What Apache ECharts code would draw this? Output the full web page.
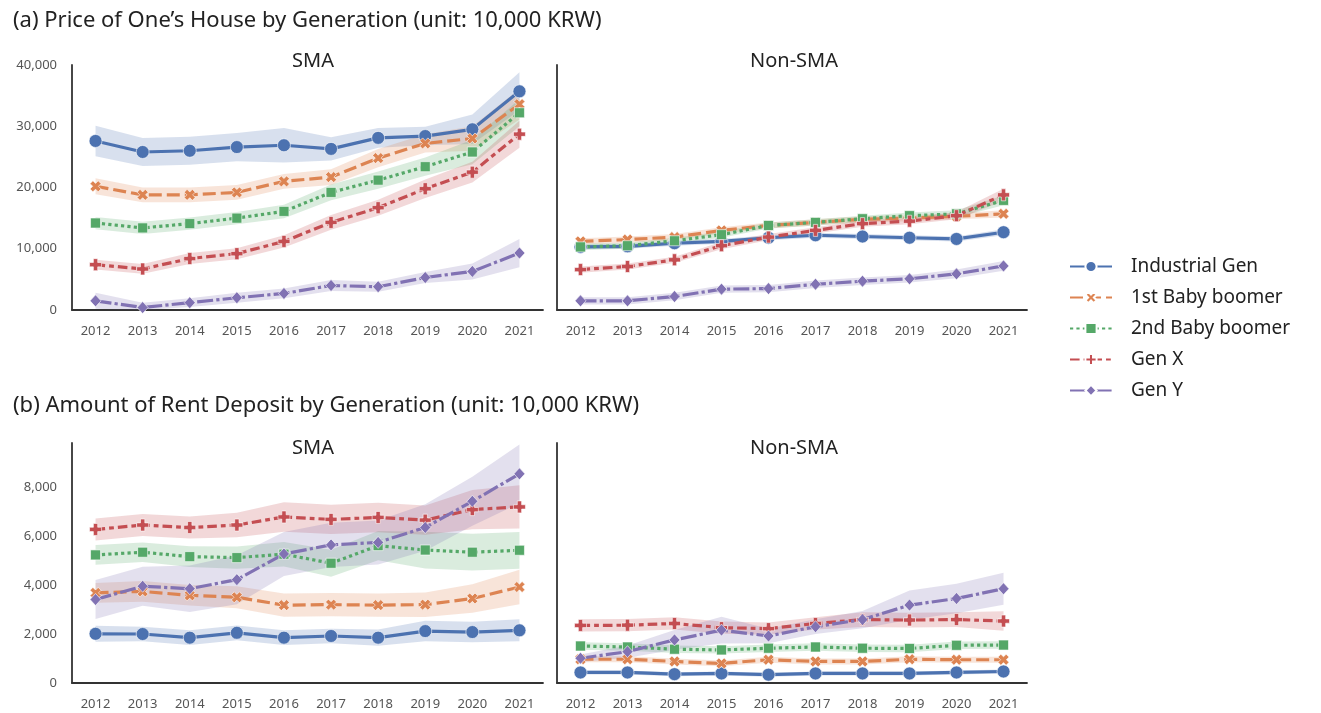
<!DOCTYPE html>
<html>
<head>
<meta charset="utf-8">
<script src="https://cdn.jsdelivr.net/npm/echarts@6/dist/echarts.min.js"></script>
<style>
  html, body { margin: 0; padding: 0; background: #fff; }
  #chart { width: 1321px; height: 713px; }
</style>
</head>
<body>
<div id="chart"></div>
<script>
// Years on the x axis
const years = ['2012', '2013', '2014', '2015', '2016', '2017', '2018', '2019', '2020', '2021'];
const generations = ['Industrial Gen', '1st Baby boomer', '2nd Baby boomer', 'Gen X', 'Gen Y'];

// (a) Price of one's house, SMA (unit: 10,000 KRW) — mean and CI half-width
const priceSmaIndustrial   = [27600, 25800, 26000, 26600, 26900, 26300, 28100, 28400, 29500, 35700];
const priceSmaIndustrialCI = [2500, 2300, 2300, 2300, 2800, 1900, 1600, 1500, 2400, 3100];
const priceSmaBoomer1      = [20200, 18800, 18800, 19200, 21000, 21700, 24800, 27200, 28000, 33600];
const priceSmaBoomer1CI    = [1300, 1200, 1200, 1200, 1200, 1300, 1500, 1500, 2000, 2500];
const priceSmaBoomer2      = [14200, 13400, 14100, 15000, 16100, 19200, 21200, 23400, 25800, 32200];
const priceSmaBoomer2CI    = [1000, 1000, 1000, 1000, 1100, 1300, 1400, 1500, 2000, 2200];
const priceSmaGenX         = [7400, 6700, 8400, 9200, 11200, 14300, 16700, 19800, 22500, 28700];
const priceSmaGenXCI       = [800, 800, 900, 900, 1000, 1200, 1300, 1500, 1700, 2200];
const priceSmaGenY         = [1500, 400, 1200, 2000, 2700, 4000, 3800, 5300, 6300, 9300];
const priceSmaGenYCI       = [1300, 800, 700, 800, 800, 900, 800, 900, 1300, 2300];

// (a) Price of one's house, Non-SMA
const priceNonIndustrial   = [10300, 10400, 10900, 11200, 11800, 12200, 12000, 11800, 11600, 12700];
const priceNonIndustrialCI = [400, 400, 400, 400, 400, 400, 400, 400, 400, 500];
const priceNonBoomer1      = [11200, 11500, 11900, 13000, 13800, 14300, 14800, 15000, 15300, 15700];
const priceNonBoomer1CI    = [500, 500, 500, 500, 500, 500, 500, 500, 500, 600];
const priceNonBoomer2      = [10300, 10500, 11300, 12300, 13800, 14300, 14900, 15400, 15700, 17900];
const priceNonBoomer2CI    = [500, 500, 500, 500, 500, 500, 500, 500, 600, 800];
const priceNonGenX         = [6600, 7100, 8200, 10500, 11900, 13000, 14100, 14500, 15400, 18800];
const priceNonGenXCI       = [500, 500, 500, 600, 500, 500, 500, 500, 600, 1000];
const priceNonGenY         = [1500, 1500, 2200, 3400, 3500, 4200, 4700, 5100, 5900, 7200];
const priceNonGenYCI       = [600, 600, 600, 600, 600, 600, 600, 600, 700, 800];

// (b) Amount of rent deposit, SMA
const depositSmaIndustrial   = [2010, 2000, 1850, 2050, 1850, 1920, 1850, 2120, 2080, 2150];
const depositSmaIndustrialCI = [330, 300, 300, 300, 300, 300, 330, 420, 420, 450];
const depositSmaBoomer1      = [3680, 3740, 3580, 3500, 3180, 3200, 3180, 3200, 3450, 3920];
const depositSmaBoomer1CI    = [400, 420, 420, 450, 470, 470, 470, 500, 580, 700];
const depositSmaBoomer2      = [5230, 5340, 5160, 5120, 5260, 4890, 5610, 5430, 5340, 5420];
const depositSmaBoomer2CI    = [400, 400, 420, 450, 500, 550, 600, 750, 750, 750];
const depositSmaGenX         = [6270, 6450, 6350, 6450, 6780, 6680, 6760, 6650, 7080, 7190];
const depositSmaGenXCI       = [450, 450, 450, 500, 600, 600, 600, 600, 800, 880];
const depositSmaGenY         = [3410, 3950, 3850, 4220, 5270, 5640, 5740, 6350, 7420, 8540];
const depositSmaGenYCI       = [800, 800, 950, 1000, 900, 900, 900, 950, 1000, 1200];

// (b) Amount of rent deposit, Non-SMA
const depositNonIndustrial   = [430, 430, 360, 390, 340, 390, 390, 390, 430, 470];
const depositNonIndustrialCI = [80, 80, 80, 80, 80, 80, 80, 80, 80, 80];
const depositNonBoomer1      = [970, 970, 880, 800, 950, 880, 880, 970, 950, 950];
const depositNonBoomer1CI    = [120, 120, 120, 120, 120, 120, 120, 120, 120, 120];
const depositNonBoomer2      = [1510, 1470, 1380, 1350, 1420, 1470, 1420, 1410, 1540, 1550];
const depositNonBoomer2CI    = [150, 150, 150, 150, 150, 150, 150, 150, 150, 150];
const depositNonGenX         = [2350, 2360, 2430, 2260, 2220, 2430, 2590, 2570, 2590, 2530];
const depositNonGenXCI       = [250, 250, 250, 250, 250, 250, 300, 300, 300, 400];
const depositNonGenY         = [1010, 1280, 1760, 2160, 1920, 2300, 2590, 3180, 3450, 3850];
const depositNonGenYCI       = [150, 250, 400, 550, 300, 300, 350, 600, 600, 650];

const priceTicks = [0, 10000, 20000, 30000, 40000];
const depositTicks = [0, 2000, 4000, 6000, 8000];

// Per-panel groups: [mean, ci] for each generation
const panels = [
  [[priceSmaIndustrial, priceSmaIndustrialCI], [priceSmaBoomer1, priceSmaBoomer1CI], [priceSmaBoomer2, priceSmaBoomer2CI], [priceSmaGenX, priceSmaGenXCI], [priceSmaGenY, priceSmaGenYCI]],
  [[priceNonIndustrial, priceNonIndustrialCI], [priceNonBoomer1, priceNonBoomer1CI], [priceNonBoomer2, priceNonBoomer2CI], [priceNonGenX, priceNonGenXCI], [priceNonGenY, priceNonGenYCI]],
  [[depositSmaIndustrial, depositSmaIndustrialCI], [depositSmaBoomer1, depositSmaBoomer1CI], [depositSmaBoomer2, depositSmaBoomer2CI], [depositSmaGenX, depositSmaGenXCI], [depositSmaGenY, depositSmaGenYCI]],
  [[depositNonIndustrial, depositNonIndustrialCI], [depositNonBoomer1, depositNonBoomer1CI], [depositNonBoomer2, depositNonBoomer2CI], [depositNonGenX, depositNonGenXCI], [depositNonGenY, depositNonGenYCI]]
];

const colors = ['#4c72b0', '#dd8452', '#55a868', '#c44e52', '#8172b3'];
const LW = 3.2;
const dashes = ['solid', [13, 5], [3.2, 3.2], [9.6, 4, 4.8, 4], [16, 3.2, 3.2, 3.2]];
// filled "X" and "P" (plus) marker outlines
const xMark = 'path://M0,2.6 L2.6,0 L5,2.4 L7.4,0 L10,2.6 L7.6,5 L10,7.4 L7.4,10 L5,7.6 L2.6,10 L0,7.4 L2.4,5 Z';
const plusMark = 'path://M3.2,0 H6.8 V3.2 H10 V6.8 H6.8 V10 H3.2 V6.8 H0 V3.2 H3.2 Z';
const symbols = ['circle', xMark, 'rect', plusMark, 'diamond'];
const symbolSizes = [13, 11, 10, 12, [11, 12]];

const font = '"Noto Sans", sans-serif';

const grids = [
  { left: 72, top: 65, width: 471, height: 245 },
  { left: 557, top: 65, width: 470, height: 245 },
  { left: 72, top: 443, width: 471, height: 240 },
  { left: 557, top: 443, width: 470, height: 240 }
];

const fmt = v => v.toLocaleString('en-US');

const xAxes = grids.map((g, i) => ({
  type: 'category',
  gridIndex: i,
  data: years,
  boundaryGap: true,
  axisLine: { show: true, lineStyle: { color: '#333', width: 1.8 } },
  axisTick: { show: false },
  axisLabel: { color: '#555', fontSize: 13, margin: 15, fontFamily: font },
  splitLine: { show: false }
}));

const yAxes = grids.map((g, i) => {
  const isPrice = i < 2;
  const ticks = isPrice ? priceTicks : depositTicks;
  return {
    type: 'value',
    gridIndex: i,
    min: 0,
    max: isPrice ? 40000 : 9800,
    interval: ticks[1] - ticks[0],
    axisLine: { show: true, lineStyle: { color: '#333', width: 1.8 } },
    axisTick: { show: false },
    splitLine: { show: false },
    axisLabel: {
      show: i % 2 === 0,
      color: '#555',
      fontSize: 13,
      margin: 15,
      fontFamily: font,
      formatter: v => (ticks.indexOf(v) >= 0 ? fmt(v) : '')
    }
  };
});

const series = [];
// confidence bands (stacked: invisible lower bound + filled band width)
panels.forEach((panel, p) => {
  panel.forEach(([mean, ci], g) => {
    const lower = mean.map((v, k) => Math.max(0, v - ci[k]));
    const width = mean.map((v, k) => v + ci[k] - lower[k]);
    const stack = 'band-' + p + '-' + g;
    const common = {
      type: 'line', xAxisIndex: p, yAxisIndex: p, stack: stack,
      showSymbol: false, symbol: 'none', silent: true, z: 1,
      lineStyle: { opacity: 0, width: 0 }, emphasis: { disabled: true }
    };
    series.push(Object.assign({ name: 'lo-' + stack, data: lower }, common));
    series.push(Object.assign({
      name: 'ci-' + stack, data: width,
      areaStyle: { color: colors[g], opacity: 0.22 }
    }, common));
  });
});
// mean lines with markers
panels.forEach((panel, p) => {
  panel.forEach(([mean], g) => {
    series.push({
      type: 'line',
      name: generations[g],
      xAxisIndex: p, yAxisIndex: p,
      data: mean,
      z: 3,
      symbol: symbols[g],
      symbolSize: symbolSizes[g],
      showSymbol: true,
      itemStyle: { color: colors[g], borderColor: '#fff', borderWidth: 0.6 },
      lineStyle: { color: colors[g], width: LW, type: dashes[g] },
      emphasis: { disabled: true }
    });
  });
});

const titleText = { fontSize: 22, fontWeight: 'normal', color: '#222', fontFamily: font };
const panelText = { fontSize: 20, fontWeight: 'normal', color: '#222', fontFamily: font };

const option = {
  backgroundColor: '#fff',
  animation: false,
  color: colors,
  title: [
    { text: '(a) Price of One’s House by Generation (unit: 10,000 KRW)', left: 8, top: 5, textStyle: titleText },
    { text: '(b) Amount of Rent Deposit by Generation (unit: 10,000 KRW)', left: 8, top: 390, textStyle: titleText },
    { text: 'SMA', left: 308, top: 46, textAlign: 'center', textStyle: panelText },
    { text: 'Non-SMA', left: 789, top: 46, textAlign: 'center', textStyle: panelText },
    { text: 'SMA', left: 308, top: 433, textAlign: 'center', textStyle: panelText },
    { text: 'Non-SMA', left: 789, top: 433, textAlign: 'center', textStyle: panelText }
  ],
  legend: {
    data: generations,
    orient: 'vertical',
    left: 1064,
    top: 252,
    itemWidth: 42,
    itemHeight: 14,
    itemGap: 12,
    textStyle: { fontSize: 19, color: '#222', fontFamily: font, padding: [0, 0, 0, 14] }
  },
  grid: grids,
  xAxis: xAxes,
  yAxis: yAxes,
  series: series
};

const chart = echarts.init(document.getElementById('chart'), null, { renderer: 'canvas' });
chart.setOption(option);
</script>
</body>
</html>
